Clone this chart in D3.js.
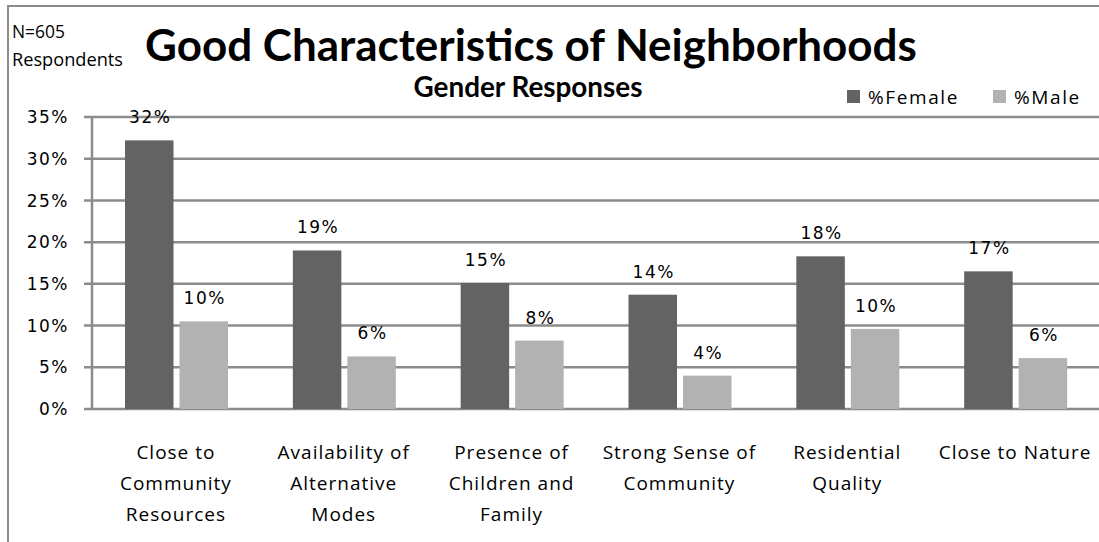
<!DOCTYPE html>
<html>
<head>
<meta charset="utf-8">
<script src="https://cdn.jsdelivr.net/npm/d3@7"></script>
<style>
  html, body { margin: 0; padding: 0; background: #fff; }
  svg { display: block; }
  text { font-family: "Open Sans", Lato, sans-serif; fill: #000; }
  text.num { font-family: "DejaVu Sans", "Open Sans", sans-serif; }
</style>
</head>
<body>
<svg id="chart" width="1099" height="542"></svg>
<script>
const categories = [
  ["Close to", "Community", "Resources"],
  ["Availability of", "Alternative", "Modes"],
  ["Presence of", "Children and", "Family"],
  ["Strong Sense of", "Community"],
  ["Residential", "Quality"],
  ["Close to Nature"]
];
const seriesNames = ["%Female", "%Male"];
const female = [32.2, 19.0, 15.1, 13.7, 18.3, 16.5];
const male = [10.5, 6.3, 8.2, 4.0, 9.6, 6.1];
const femaleLabels = ["32%", "19%", "15%", "14%", "18%", "17%"];
const maleLabels = ["10%", "6%", "8%", "4%", "10%", "6%"];
const yTicks = [0, 5, 10, 15, 20, 25, 30, 35];
const colors = ["#636363", "#b2b2b2"];

const svg = d3.select("#chart");
const W = 1099, H = 542;
const margin = { left: 92, right: 0, top: 117, bottom: 133 };
const plotW = W - margin.left - margin.right;
const plotH = H - margin.top - margin.bottom;
const FS = "19px";
const NFS = "17px";

// outer frame (left + top)
svg.append("path")
  .attr("d", `M8,${H} L8,6 L${W},6`)
  .attr("fill", "none").attr("stroke", "#8c8c8c").attr("stroke-width", 2);

const g = svg.append("g").attr("transform", `translate(${margin.left},${margin.top})`);

const x0 = d3.scaleBand().domain(d3.range(categories.length)).range([0, plotW]).paddingInner(0).paddingOuter(0);
const x1 = d3.scaleBand().domain([0, 1]).range([33, 33 + 103]).paddingInner(0.11).paddingOuter(0);
const y = d3.scaleLinear().domain([0, 35]).range([plotH, 0]);

// gridlines
g.append("g").selectAll("line").data(yTicks).join("line")
  .attr("x1", -8).attr("x2", plotW)
  .attr("y1", d => y(d)).attr("y2", d => y(d))
  .attr("stroke", "#8c8c8c").attr("stroke-width", 2.5);

// y axis line
g.append("line").attr("x1", 0).attr("x2", 0).attr("y1", y(35)).attr("y2", y(0))
  .attr("stroke", "#8c8c8c").attr("stroke-width", 2.5);

// y tick labels
g.append("g").selectAll("text").data(yTicks).join("text")
  .attr("class", "num")
  .attr("x", -23).attr("y", d => y(d)).attr("dy", "0.36em")
  .attr("text-anchor", "end").style("font-size", NFS).style("letter-spacing", "1.5px")
  .text(d => d + "%");

const data = categories.map((c, i) => ({ i, vals: [female[i], male[i]], labs: [femaleLabels[i], maleLabels[i]] }));

const groups = g.append("g").selectAll("g").data(data).join("g")
  .attr("transform", d => `translate(${x0(d.i)},0)`);

groups.selectAll("rect").data(d => d.vals.map((v, k) => ({ v, k }))).join("rect")
  .attr("x", d => x1(d.k)).attr("width", x1.bandwidth())
  .attr("y", d => y(d.v)).attr("height", d => y(0) - y(d.v))
  .attr("fill", d => colors[d.k]);

groups.selectAll("text.val").data(d => d.vals.map((v, k) => ({ v, k, lab: d.labs[k] }))).join("text")
  .attr("class", "val num")
  .attr("x", d => x1(d.k) + x1.bandwidth() / 2 + 1)
  .attr("y", d => y(d.v) - 17)
  .attr("text-anchor", "middle").style("font-size", NFS).style("letter-spacing", "1.5px")
  .text(d => d.lab);

// category labels
groups.each(function(d) {
  const t = d3.select(this).append("text")
    .attr("text-anchor", "middle")
    .style("font-size", FS).style("letter-spacing", "1.0px");
  categories[d.i].forEach((line, li) => {
    t.append("tspan").attr("x", x0.bandwidth() / 2).attr("y", plotH + 50 + li * 31).text(line);
  });
});

// title
function fit(sel, target) {
  const w = sel.node().getComputedTextLength();
  const fs = parseFloat(sel.style("font-size"));
  sel.style("font-size", (fs * target / w) + "px");
}
const title = svg.append("text").attr("x", 531).attr("y", 61).attr("text-anchor", "middle")
  .style("font-family", "Lato, sans-serif")
  .style("font-size", "34px").style("font-weight", "bold")
  .text("Good Characteristics of Neighborhoods");
fit(title, 772);

const sub = svg.append("text").attr("x", 528).attr("y", 97).attr("text-anchor", "middle")
  .style("font-family", "Lato, sans-serif")
  .style("font-size", "19px").style("font-weight", "bold")
  .text("Gender Responses");
fit(sub, 229);

// N label
const n1 = svg.append("text").attr("x", 12).attr("y", 38).style("font-size", "16px").text("N=605");
fit(n1, 53);
const n2 = svg.append("text").attr("x", 12).attr("y", 66).style("font-size", "16px").text("Respondents");
fit(n2, 111);

// legend
const legX = [847, 993];
const leg = svg.append("g").selectAll("g").data(seriesNames).join("g")
  .attr("transform", (d, i) => `translate(${legX[i]},90)`);
leg.append("rect").attr("width", 13).attr("height", 13).attr("fill", (d, i) => colors[i]);
leg.append("text").attr("x", 21).attr("y", 14).style("font-size", FS).style("letter-spacing", "1.6px").text(d => d);
</script>
</body>
</html>
